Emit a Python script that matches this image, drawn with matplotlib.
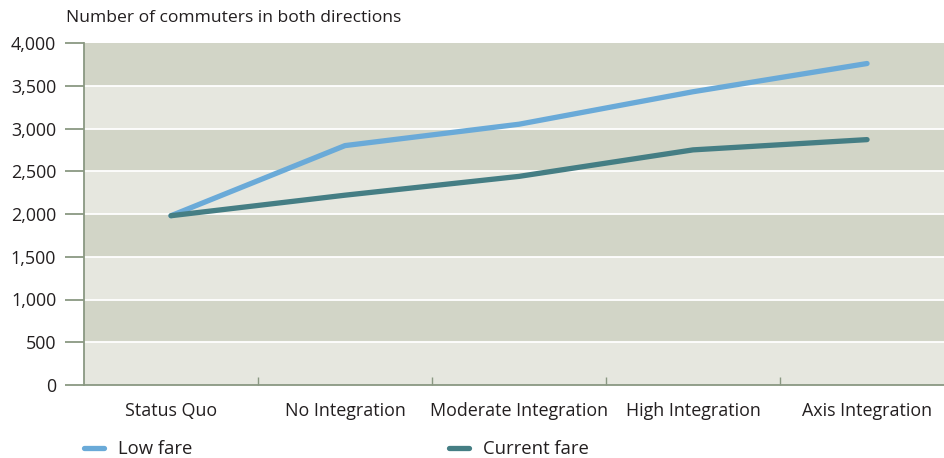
import matplotlib
matplotlib.use("Agg")
import matplotlib.pyplot as plt
from matplotlib.lines import Line2D

categories = ["Status Quo", "No Integration", "Moderate Integration", "High Integration", "Axis Integration"]
low_fare = [1980, 2800, 3050, 3430, 3760]
current_fare = [1980, 2220, 2440, 2750, 2870]
y_ticks = [0, 500, 1000, 1500, 2000, 2500, 3000, 3500, 4000]
y_tick_labels = ["0", "500", "1,000", "1,500", "2,000", "2,500", "3,000", "3,500", "4,000"]
series_names = ["Low fare", "Current fare"]

plt.rcParams['font.family'] = ['Open Sans', 'DejaVu Sans']

W, H = 945, 458
fig = plt.figure(figsize=(W / 100, H / 100), dpi=100)
ax = fig.add_axes([84 / W, 1 - 385 / H, (945 - 84) / W, (385 - 43) / H])

light = "#e6e7df"
dark = "#d2d5c7"
for i in range(len(y_ticks) - 1):
    ax.axhspan(y_ticks[i], y_ticks[i + 1], color=light if i % 2 == 0 else dark, lw=0, zorder=0)
for v in y_ticks[1:-1]:
    ax.axhline(v, color="white", lw=1.3, zorder=1)

x = list(range(len(categories)))
c_low = "#6aaad8"
c_cur = "#457e84"
ax.plot(x, low_fare, color=c_low, lw=3.8, solid_capstyle="round", solid_joinstyle="round", zorder=3)
ax.plot(x, current_fare, color=c_cur, lw=3.8, solid_capstyle="round", solid_joinstyle="round", zorder=4)

ax.set_xlim(-0.5, 4.448)
ax.set_ylim(0, 4000)

spine_c = "#8a9882"
for s in ["top", "right"]:
    ax.spines[s].set_visible(False)
for s in ["left", "bottom"]:
    ax.spines[s].set_color(spine_c)
    ax.spines[s].set_linewidth(1.3)

ax.set_yticks(y_ticks)
ax.set_yticklabels(y_tick_labels)
ax.tick_params(axis="y", length=14, width=1.3, color=spine_c, pad=6, labelsize=12.9, labelcolor="#231f20")

ax.set_xticks(x)
ax.set_xticklabels(categories)
ax.tick_params(axis="x", which="major", length=0, pad=12, labelsize=12.9, labelcolor="#231f20")
ax.set_xticks([0.5, 1.5, 2.5, 3.5], minor=True)
ax.tick_params(axis="x", which="minor", direction="in", length=6, width=1.0, color=spine_c)

fig.text(66 / W, 1 - 18 / H, "Number of commuters in both directions", fontsize=12.6, color="#231f20", va="center", ha="left")

# legend
for (x0, x1, tx), name, col in zip([(84, 104, 118), (449, 469, 483)], series_names, [c_low, c_cur]):
    fig.add_artist(Line2D([x0 / W, x1 / W], [1 - 448 / H] * 2, color=col, lw=3.8, solid_capstyle="round", transform=fig.transFigure))
    fig.text(tx / W, 1 - 449 / H, name, fontsize=13.3, color="#231f20", va="center", ha="left")

fig.savefig("out.png", dpi=100, facecolor="white")
